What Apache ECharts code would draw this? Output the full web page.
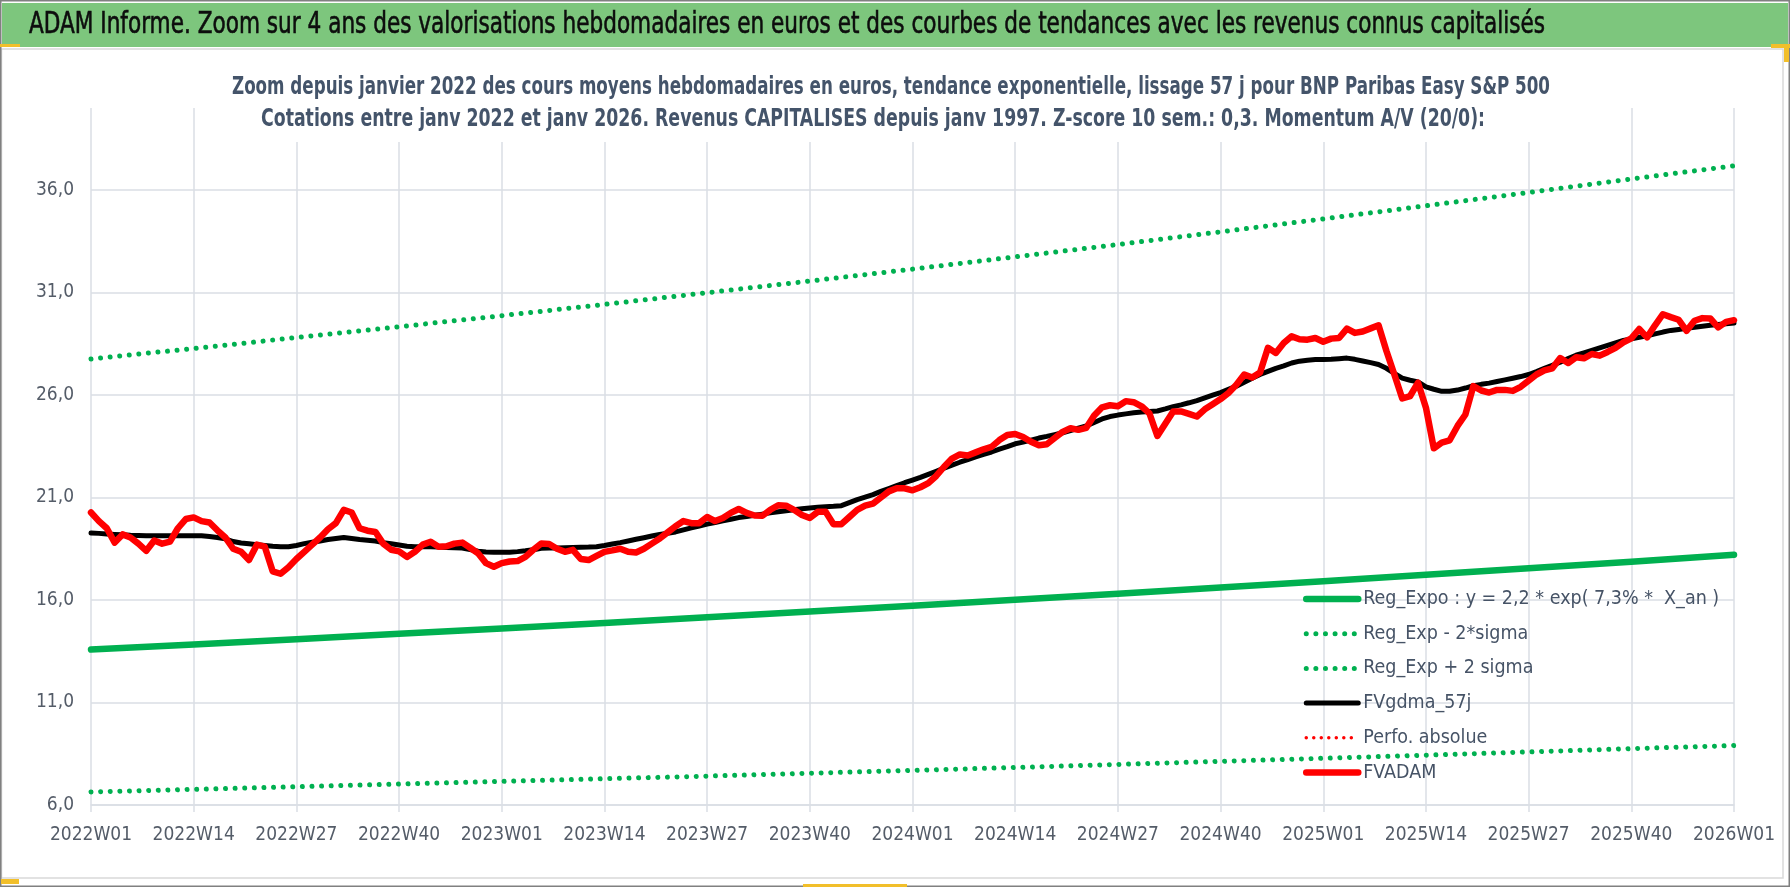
<!DOCTYPE html>
<html>
<head>
<meta charset="utf-8">
<script src="https://cdn.jsdelivr.net/npm/echarts@6/dist/echarts.min.js"></script>
<style>
html,body{margin:0;padding:0;background:#fff;}
#chart{width:1790px;height:887px;}
</style>
</head>
<body>
<div id="chart"></div>
<script>
// ---------- DATA ----------
const years = [2022, 2023, 2024, 2025];
const weeksPerYear = 52;
const lastLabel = '2026W01';

const fvadam = [
 20.27,19.85,19.5,18.8,19.2,19.05,18.75,18.4,18.9,18.75,
 18.85,19.5,19.95,20.03,19.85,19.78,19.4,19.05,18.5,18.35,
 17.95,18.7,18.6,17.4,17.28,17.6,18.0,18.35,18.7,19.05,
 19.45,19.75,20.4,20.27,19.5,19.38,19.32,18.75,18.45,18.37,
 18.1,18.35,18.7,18.84,18.6,18.62,18.75,18.8,18.55,18.28,
 17.8,17.62,17.8,17.88,17.9,18.1,18.45,18.76,18.73,18.5,
 18.35,18.45,18.0,17.95,18.15,18.35,18.42,18.5,18.35,18.32,
 18.5,18.75,19.0,19.3,19.6,19.85,19.75,19.75,20.05,19.85,
 20.0,20.25,20.44,20.25,20.12,20.11,20.4,20.62,20.6,20.4,
 20.15,20.0,20.3,20.3,19.7,19.7,20.05,20.4,20.6,20.7,
 21.0,21.3,21.45,21.45,21.35,21.5,21.7,22.05,22.5,22.9,
 23.1,23.05,23.2,23.35,23.47,23.8,24.05,24.1,23.95,23.72,
 23.55,23.6,23.9,24.2,24.38,24.3,24.4,25.0,25.4,25.5,
 25.45,25.7,25.65,25.45,25.1,24.0,24.6,25.2,25.2,25.08,
 24.95,25.3,25.55,25.8,26.1,26.5,27.0,26.85,27.1,28.3,
 28.05,28.54,28.86,28.72,28.7,28.78,28.6,28.75,28.78,29.24,
 29.03,29.1,29.25,29.4,28.15,27.0,25.83,25.95,26.6,25.38,
 23.4,23.68,23.79,24.49,25.05,26.43,26.22,26.12,26.25,26.25,
 26.2,26.4,26.7,27.0,27.2,27.3,27.8,27.56,27.84,27.79,
 28.0,27.92,28.1,28.3,28.57,28.76,29.22,28.81,29.4,29.94,
 29.8,29.67,29.13,29.62,29.75,29.73,29.3,29.57,29.65
];

const fvgdma57 = [
 19.27,19.25,19.22,19.2,19.18,19.16,19.15,19.14,19.14,19.14,
 19.14,19.14,19.14,19.14,19.13,19.1,19.05,18.98,18.85,18.78,
 18.74,18.7,18.66,18.62,18.6,18.6,18.66,18.75,18.82,18.88,
 18.95,19.0,19.05,19.0,18.95,18.92,18.88,18.8,18.74,18.68,
 18.62,18.6,18.6,18.6,18.58,18.56,18.55,18.54,18.46,18.38,
 18.34,18.33,18.33,18.33,18.36,18.4,18.45,18.52,18.54,18.54,
 18.55,18.56,18.57,18.58,18.6,18.66,18.73,18.8,18.88,18.96,
 19.04,19.12,19.2,19.26,19.32,19.42,19.52,19.61,19.7,19.78,
 19.86,19.94,20.02,20.07,20.13,20.19,20.25,20.3,20.35,20.4,
 20.45,20.49,20.52,20.55,20.57,20.6,20.75,20.9,21.02,21.14,
 21.3,21.44,21.58,21.72,21.85,21.98,22.13,22.28,22.43,22.58,
 22.72,22.85,22.98,23.1,23.22,23.36,23.48,23.62,23.7,23.8,
 23.9,23.98,24.07,24.16,24.26,24.38,24.49,24.66,24.83,24.95,
 25.02,25.08,25.13,25.17,25.2,25.22,25.32,25.43,25.52,25.62,
 25.73,25.86,25.99,26.12,26.28,26.43,26.62,26.82,27.0,27.15,
 27.3,27.42,27.56,27.65,27.7,27.73,27.73,27.74,27.77,27.8,
 27.74,27.66,27.58,27.49,27.3,27.05,26.82,26.72,26.64,26.4,
 26.28,26.18,26.18,26.24,26.34,26.45,26.52,26.58,26.66,26.74,
 26.82,26.9,27.0,27.14,27.3,27.45,27.6,27.78,27.94,28.06,
 28.18,28.3,28.42,28.54,28.66,28.74,28.82,28.89,28.98,29.07,
 29.15,29.2,29.25,29.3,29.35,29.4,29.44,29.48,29.51
];

// regression lines, read at each quarterly tick (every 13 weeks)
const regExpo   = [13.58,13.83,14.09,14.35,14.61,14.88,15.16,15.44,15.72,16.01,16.31,16.61,16.92,17.23,17.55,17.87,18.21];
const regMinus2 = [6.64,6.76,6.89,7.02,7.15,7.28,7.41,7.55,7.69,7.83,7.98,8.13,8.28,8.43,8.59,8.75,8.90];
const regPlus2  = [27.76,28.27,28.80,29.33,29.87,30.42,30.99,31.56,32.14,32.74,33.34,33.96,34.59,35.23,35.88,36.54,37.18];
const perfoAbsolue = [];

const yTicks = { min: 6, max: 40, step: 5 };
const tickEvery = 13;

// category labels
const weeks = [];
years.forEach(y => { for (let w = 1; w <= weeksPerYear; w++) weeks.push(y + 'W' + (w < 10 ? '0' + w : w)); });
weeks.push(lastLabel);
const qWeeks = weeks.filter((w, i) => i % tickEvery === 0);
const pairs = arr => arr.map((v, k) => [qWeeks[k], v]);

// ---------- FONTS ----------
function hasFont(name){
  const c = document.createElement('canvas').getContext('2d');
  const s = 'mmmmmmmmmmlliWW0123456789';
  c.font = '40px monospace'; const a = c.measureText(s).width;
  c.font = '40px "' + name + '", monospace'; const b = c.measureText(s).width;
  return Math.abs(a - b) > 0.5;
}
const FAM = hasFont('Liberation Sans Narrow') ? '"Liberation Sans Narrow"' :
            (hasFont('DejaVu Sans Condensed') ? '"DejaVu Sans Condensed"' : 'Roboto');

const measCtx = document.createElement('canvas').getContext('2d');
function fitText(str, font, left, width, cy, color, z, strokeW){
  measCtx.font = font;
  const w = measCtx.measureText(str).width;
  const st = { text:str, font:font, fill:color, align:'left', verticalAlign:'middle' };
  if (strokeW) { st.stroke = color; st.lineWidth = strokeW; }
  return { type:'text', x:left, y:cy, scaleX: width / w, z: z, silent:true, style:st };
}

const GRID = '#dadee5';
const AXTXT = '#545c68';
const GREEN = '#00b050';

const chart = echarts.init(document.getElementById('chart'), null, {renderer:'canvas'});

const option = {
  backgroundColor:'#ffffff',
  animation:false,
  graphic:[
    {type:'rect', z:-10, shape:{x:1.5,y:49,width:1781.5,height:829}, style:{fill:'#ffffff', stroke:'#d9d9d9', lineWidth:1.5}},
    {type:'rect', z:-9, shape:{x:2,y:3,width:1786,height:44}, style:{fill:'#7dc67d'}},
    {type:'rect', z:-8, shape:{x:0.75,y:0.75,width:1788.5,height:885.5}, style:{fill:'none', stroke:'#808080', lineWidth:1.5}},
    {type:'rect', z:-7, shape:{x:1771,y:44,width:19,height:4}, style:{fill:'#f2bf2a'}},
    {type:'rect', z:-7, shape:{x:1784,y:44,width:5,height:18}, style:{fill:'#f2bf2a'}},
    {type:'rect', z:-7, shape:{x:0,y:44,width:20,height:3}, style:{fill:'#f2bf2a'}},
    {type:'rect', z:-7, shape:{x:1,y:879,width:18,height:5}, style:{fill:'#f2bf2a'}},
    {type:'rect', z:-7, shape:{x:803,y:884,width:104,height:3}, style:{fill:'#f2bf2a'}},
    fitText('ADAM Informe. Zoom sur 4 ans des valorisations hebdomadaires en euros et des courbes de tendances avec les revenus connus capitalisés',
            '31px ' + FAM, 29, 1516, 25, '#0d0d0d', 20, 0.6),
    {type:'rect', z:50, shape:{x:222,y:66,width:1340,height:76}, style:{fill:'#ffffff'}},
    fitText('Zoom depuis janvier 2022 des cours moyens hebdomadaires en euros, tendance exponentielle, lissage 57 j pour BNP Paribas Easy S&P 500',
            'bold 25px ' + FAM, 232, 1318, 87, '#44546a', 51),
    fitText('Cotations entre janv 2022 et janv 2026. Revenus CAPITALISES depuis janv 1997. Z-score 10 sem.: 0,3. Momentum A/V (20/0):',
            'bold 25px ' + FAM, 261, 1224, 119, '#44546a', 51)
  ],
  grid:{ left:91, right:56, top:108, bottom:82, containLabel:false },
  legend:{
    orient:'vertical', left:1298, top:583, itemWidth:52, itemHeight:12, itemGap:12.7,
    selectedMode:false,
    itemStyle:{ opacity:0 },
    lineStyle:{ width:'inherit' },
    textStyle:{ fontFamily:FAM, fontSize:19.5, lineHeight:22, color:'#465366' },
    data:['Reg_Expo : y = 2,2 * exp( 7,3% *  X_an )','Reg_Exp - 2*sigma','Reg_Exp + 2 sigma','FVgdma_57j','Perfo. absolue','FVADAM']
  },
  xAxis:{
    type:'category', data:weeks, boundaryGap:false,
    axisLine:{ show:true, lineStyle:{ color:GRID, width:1.5 } },
    axisTick:{ show:true, interval:tickEvery-1, length:7, lineStyle:{ color:GRID, width:1.5 } },
    axisLabel:{ interval:tickEvery-1, margin:21, fontFamily:FAM, fontSize:19, color:AXTXT, showMaxLabel:true },
    splitLine:{ show:true, interval:tickEvery-1, lineStyle:{ color:GRID, width:1.5 } }
  },
  yAxis:{
    type:'value', min:yTicks.min, max:yTicks.max, interval:yTicks.step,
    axisLine:{ show:false }, axisTick:{ show:false },
    axisLabel:{ margin:17, fontFamily:FAM, fontSize:19, color:AXTXT, showMaxLabel:false,
      formatter: v => ((v - yTicks.min) % yTicks.step === 0 ? v.toFixed(1).replace('.', ',') : '') },
    splitLine:{ show:true, showMaxLine:false, lineStyle:{ color:GRID, width:1.5 } }
  },
  series:[
    { name:'Reg_Expo : y = 2,2 * exp( 7,3% *  X_an )', type:'line', data:pairs(regExpo), symbol:'none', silent:true,
      lineStyle:{ color:GREEN, width:6.5, cap:'round', join:'round' }, itemStyle:{color:GREEN} },
    { name:'Reg_Exp - 2*sigma', type:'line', data:pairs(regMinus2), symbol:'none', silent:true,
      lineStyle:{ color:GREEN, width:5, type:[0.01, 9.6], cap:'round', join:'round' }, itemStyle:{color:GREEN} },
    { name:'Reg_Exp + 2 sigma', type:'line', data:pairs(regPlus2), symbol:'none', silent:true,
      lineStyle:{ color:GREEN, width:5, type:[0.01, 9.6], cap:'round', join:'round' }, itemStyle:{color:GREEN} },
    { name:'FVgdma_57j', type:'line', data:fvgdma57, symbol:'none', silent:true,
      lineStyle:{ color:'#000000', width:5, cap:'round', join:'round' }, itemStyle:{color:'#000000'} },
    { name:'Perfo. absolue', type:'line', data:perfoAbsolue, symbol:'none', silent:true,
      lineStyle:{ color:'#ff0000', width:3.5, type:[0.01, 7.5], cap:'round' }, itemStyle:{color:'#ff0000'} },
    { name:'FVADAM', type:'line', data:fvadam, symbol:'none', silent:true,
      lineStyle:{ color:'#ff0000', width:6.5, cap:'round', join:'round' }, itemStyle:{color:'#ff0000'} }
  ]
};
chart.setOption(option);
</script>
</body>
</html>
